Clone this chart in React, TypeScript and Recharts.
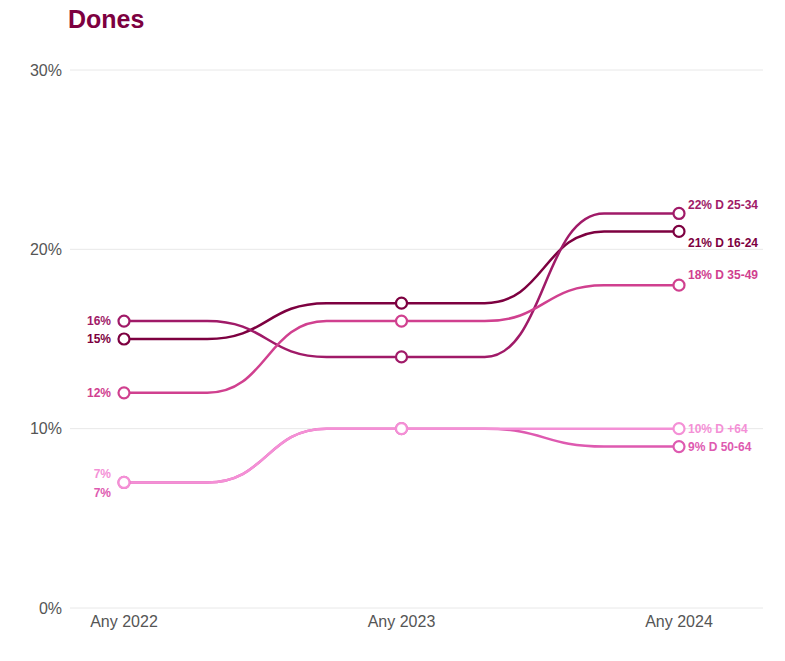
import { LineChart, Line, XAxis, YAxis, CartesianGrid, LabelList } from 'recharts';

const years = ['Any 2022', 'Any 2023', 'Any 2024'];
const d1624 = [15, 17, 21];
const d2534 = [16, 14, 22];
const d3549 = [12, 16, 18];
const d5064 = [7, 10, 9];
const dMas64 = [7, 10, 10];
const yTicks = [0, 10, 20, 30];

const FONT = '"Liberation Sans", Arial, sans-serif';

// label offsets: first point (left) and last point (right)
const series = [
  { key: 'd1624', name: 'D 16-24', color: '#7d0040', leftDy: 0, rightDy: 11 },
  { key: 'd2534', name: 'D 25-34', color: '#a01a68', leftDy: 0, rightDy: -9 },
  { key: 'd3549', name: 'D 35-49', color: '#d0408f', leftDy: 0, rightDy: -10 },
  { key: 'd5064', name: 'D 50-64', color: '#de5ab0', leftDy: 10, rightDy: 0 },
  { key: 'dMas64', name: 'D +64', color: '#f490d6', leftDy: -9, rightDy: 0 },
];

const data = years.map((year, i) => ({
  year,
  d1624: d1624[i],
  d2534: d2534[i],
  d3549: d3549[i],
  d5064: d5064[i],
  dMas64: dMas64[i],
}));

// step-like curve: flat, S-shaped transition in the middle, flat again
function stepBump(context: any) {
  let x0 = 0;
  let y0 = 0;
  let pt = 0;
  return {
    areaStart() {},
    areaEnd() {},
    lineStart() { pt = 0; },
    lineEnd() {},
    point(x: number, y: number) {
      if (pt === 0) {
        context.moveTo(x, y);
        pt = 1;
      } else {
        const dx = x - x0;
        const a = x0 + dx * 0.3;
        const b = x0 + dx * 0.73;
        const m = (a + b) / 2;
        context.lineTo(a, y0);
        context.bezierCurveTo(m, y0, m, y, b, y);
        context.lineTo(x, y);
      }
      x0 = x;
      y0 = y;
    },
  };
}

function makeLabel(s: (typeof series)[number]) {
  return (props: any) => {
    const { x, y, index, value } = props;
    if (index === 0) {
      return (
        <text x={x - 13} y={y + s.leftDy} dy="0.35em" textAnchor="end" fill={s.color}
          fontSize={12} fontWeight="bold" fontFamily={FONT}>
          {value}%
        </text>
      );
    }
    if (index === years.length - 1) {
      return (
        <text x={x + 9} y={y + s.rightDy} dy="0.35em" textAnchor="start" fill={s.color}
          fontSize={12} fontWeight="bold" fontFamily={FONT}>
          {`${value}% ${s.name}`}
        </text>
      );
    }
    return null;
  };
}

export default function App() {
  return (
    <div style={{ position: 'absolute', left: 0, top: 0, width: 785, height: 661, background: '#fff' }}>
      <div style={{
        position: 'absolute', left: 68, top: 5, fontFamily: FONT, fontWeight: 'bold',
        fontSize: 25, color: '#7d0040',
      }}>
        Dones
      </div>
      <LineChart width={785} height={661} data={data}
        margin={{ top: 70, right: 22, bottom: 23, left: 0 }}>
        <CartesianGrid horizontal vertical={false} stroke="#e8e8e8" />
        <XAxis dataKey="year" axisLine={false} tickLine={false} tickSize={0} tickMargin={8}
          height={30} padding={{ left: 54, right: 84 }}
          tick={{ fill: '#555', fontSize: 16, fontFamily: FONT }} />
        <YAxis domain={[0, 30]} ticks={yTicks} axisLine={false} tickLine={false} tickSize={0}
          tickMargin={8} width={70} tickFormatter={(v: number) => `${v}%`}
          tick={{ fill: '#555', fontSize: 16, fontFamily: FONT }} />
        {series.map((s) => (
          <Line key={s.key} dataKey={s.key} type={stepBump as any} stroke={s.color} strokeWidth={2.5}
            dot={{ r: 5.5, fill: '#fff', stroke: s.color, strokeWidth: 2.2 }} activeDot={false}
            isAnimationActive={false}>
            <LabelList dataKey={s.key} content={makeLabel(s)} />
          </Line>
        ))}
      </LineChart>
    </div>
  );
}
